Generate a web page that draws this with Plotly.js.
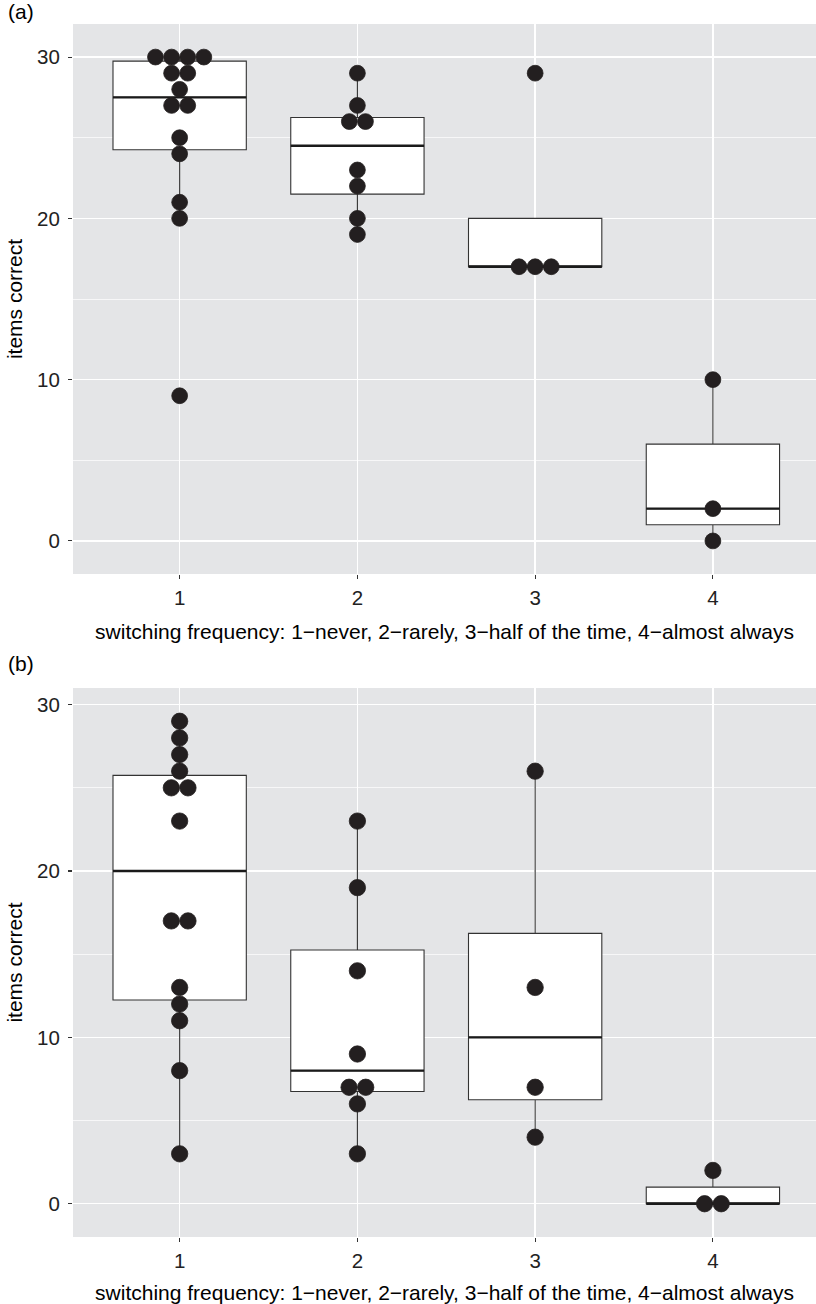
<!DOCTYPE html>
<html>
<head>
<meta charset="utf-8">
<script src="https://cdn.plot.ly/plotly-3.0.1.min.js"></script>
<style>
  html, body { margin: 0; padding: 0; background: #ffffff; }
  #chart { width: 816px; height: 1304px; }
</style>
</head>
<body>
<div id="chart"></div>
<script>
// ---------------- data ----------------
const categories = [1, 2, 3, 4];
const categoryLabels = ["1", "2", "3", "4"];
const yTicks = [0, 10, 20, 30];

// panel (a): items correct by switching frequency
const panelA_g1 = [30, 30, 30, 30, 29, 29, 28, 27, 27, 25, 24, 21, 20, 9];
const panelA_g2 = [29, 27, 26, 26, 23, 22, 20, 19];
const panelA_g3 = [29, 17, 17, 17];
const panelA_g4 = [10, 2, 0];

// panel (b): items correct by switching frequency
const panelB_g1 = [29, 28, 27, 26, 25, 25, 23, 17, 17, 13, 12, 11, 8, 3];
const panelB_g2 = [23, 19, 14, 9, 7, 7, 6, 3];
const panelB_g3 = [26, 13, 7, 4];
const panelB_g4 = [2, 0, 0];

const panelLabels = ["(a)", "(b)"];
const xTitle = "switching frequency: 1\u2212never, 2\u2212rarely, 3\u2212half of the time, 4\u2212almost always";
const yTitle = "items correct";

// ---------------- layout geometry ----------------
const W = 816, H = 1304;
const plotLeft = 73, plotRight = 816;
const panelA_px = [24, 574];   // top, bottom in px
const panelB_px = [688, 1237];
const xRange = [0.4, 4.58];
const yRangeA = [-2.05, 32.05];
const yRangeB = [-2.0, 31.0];
const boxWidth = 0.75;
const binwidth = 1;

const FONT = "Liberation Sans, Arial, Helvetica, sans-serif";
const DOT = "#231f20";
const BOXLINE = "#333333";
const BG = "#e4e5e7";

function domY(px) { return [1 - px[1] / H, 1 - px[0] / H]; }

// R type-7 quantile
function quant(sorted, p) {
  const n = sorted.length;
  const h = (n - 1) * p;
  const lo = Math.floor(h);
  const hi = Math.min(lo + 1, n - 1);
  return sorted[lo] + (h - lo) * (sorted[hi] - sorted[lo]);
}
function boxStats(groups) {
  const s = { q1: [], med: [], q3: [], lo: [], hi: [] };
  groups.forEach(g => {
    const v = g.slice().sort((a, b) => a - b);
    const q1 = quant(v, 0.25), med = quant(v, 0.5), q3 = quant(v, 0.75);
    const iqr = q3 - q1;
    const inside = v.filter(x => x >= q1 - 1.5 * iqr && x <= q3 + 1.5 * iqr);
    s.q1.push(q1); s.med.push(med); s.q3.push(q3);
    s.lo.push(Math.min(q1, Math.min(...inside)));
    s.hi.push(Math.max(q3, Math.max(...inside)));
  });
  return s;
}

function dotPositions(groups, yRange, pxRange) {
  const pxPerY = (pxRange[1] - pxRange[0]) / (yRange[1] - yRange[0]);
  const pxPerX = (plotRight - plotLeft) / (xRange[1] - xRange[0]);
  const step = binwidth * pxPerY / pxPerX;
  const xs = [], ys = [];
  groups.forEach((g, gi) => {
    const counts = {};
    g.forEach(v => { counts[v] = (counts[v] || 0) + 1; });
    Object.keys(counts).forEach(k => {
      const n = counts[k];
      for (let i = 0; i < n; i++) {
        xs.push(categories[gi] + (i - (n - 1) / 2) * step);
        ys.push(Number(k));
      }
    });
  });
  return { xs, ys, size: binwidth * pxPerY - 0.3 };
}

function panelTraces(groups, xa, ya, yRange, pxRange) {
  const st = boxStats(groups);
  const box = {
    type: "box", x: categories, q1: st.q1, median: st.med, q3: st.q3,
    lowerfence: st.lo, upperfence: st.hi,
    width: boxWidth, whiskerwidth: 0, boxpoints: false,
    fillcolor: "#ffffff", line: { color: BOXLINE, width: 1.1 },
    xaxis: xa, yaxis: ya, hoverinfo: "skip", showlegend: false
  };
  const mx = [], my = [];
  categories.forEach((c, i) => {
    mx.push(c - boxWidth / 2, c + boxWidth / 2, null);
    my.push(st.med[i], st.med[i], null);
  });
  const median = {
    type: "scatter", mode: "lines", x: mx, y: my,
    line: { color: "#1a1a1a", width: 2.3 }, xaxis: xa, yaxis: ya,
    hoverinfo: "skip", showlegend: false
  };
  const d = dotPositions(groups, yRange, pxRange);
  const dots = {
    type: "scatter", mode: "markers", x: d.xs, y: d.ys,
    marker: { color: DOT, size: d.size, line: { color: DOT, width: 0.8 } },
    xaxis: xa, yaxis: ya, hoverinfo: "x+y", showlegend: false
  };
  return [box, median, dots];
}

const traces = [].concat(
  panelTraces([panelA_g1, panelA_g2, panelA_g3, panelA_g4], "x", "y", yRangeA, panelA_px),
  panelTraces([panelB_g1, panelB_g2, panelB_g3, panelB_g4], "x2", "y2", yRangeB, panelB_px)
);

function xAxis(anchor) {
  return {
    anchor: anchor, domain: [plotLeft / W, plotRight / W], range: xRange,
    tickvals: categories, ticktext: categoryLabels,
    ticks: "outside", ticklen: 4, tickwidth: 1.1, tickcolor: BOXLINE,
    tickfont: { family: FONT, size: 20.5, color: "#222222" },
    ticklabelstandoff: 1,
    showgrid: true, gridcolor: "#ffffff", gridwidth: 1.4,
    zeroline: false, showline: false, fixedrange: true,
    title: { text: xTitle, font: { family: FONT, size: 21, color: "#000000" }, standoff: 16 }
  };
}
function yAxis(anchor, px, range) {
  return {
    anchor: anchor, domain: domY(px), range: range,
    tickvals: yTicks, ticktext: yTicks.map(String),
    ticks: "outside", ticklen: 4, tickwidth: 1.1, tickcolor: BOXLINE,
    tickfont: { family: FONT, size: 20.5, color: "#222222" },
    ticklabelstandoff: 4,
    showgrid: true, gridcolor: "#ffffff", gridwidth: 1.4,
    minor: { tickvals: [5, 15, 25], showgrid: true, gridcolor: "#ffffff", gridwidth: 0.7, ticks: "" },
    zeroline: false, showline: false, fixedrange: true,
    title: { text: yTitle, font: { family: FONT, size: 21, color: "#000000" }, standoff: 8 }
  };
}

const layout = {
  width: W, height: H,
  margin: { l: 0, r: 0, t: 0, b: 0, pad: 0 },
  paper_bgcolor: "#ffffff", plot_bgcolor: BG,
  font: { family: FONT, color: "#000000" },
  showlegend: false,
  xaxis: xAxis("y"),
  yaxis: yAxis("x", panelA_px, yRangeA),
  xaxis2: xAxis("y2"),
  yaxis2: yAxis("x2", panelB_px, yRangeB),
  annotations: [
    { text: panelLabels[0], xref: "paper", yref: "paper", x: 6 / W, y: 1 - 12 / H,
      xanchor: "left", yanchor: "middle", showarrow: false,
      font: { family: FONT, size: 21, color: "#000000" } },
    { text: panelLabels[1], xref: "paper", yref: "paper", x: 6 / W, y: 1 - 664 / H,
      xanchor: "left", yanchor: "middle", showarrow: false,
      font: { family: FONT, size: 21, color: "#000000" } }
  ]
};

Plotly.newPlot("chart", traces, layout, { displayModeBar: false, staticPlot: true });
</script>
</body>
</html>
